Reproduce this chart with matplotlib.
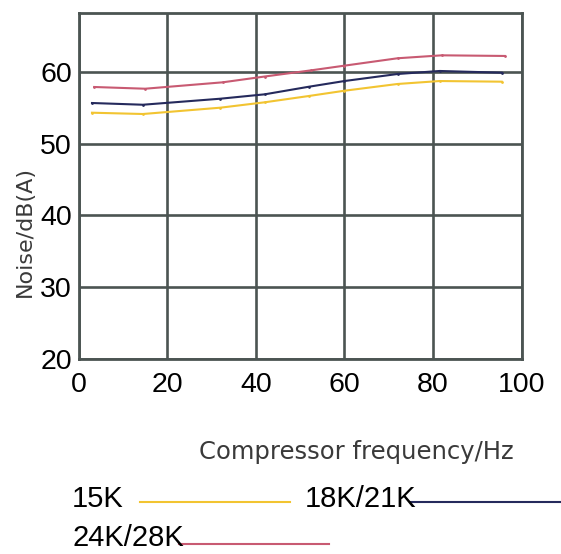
import matplotlib
matplotlib.use("Agg")
import matplotlib.pyplot as plt
from matplotlib.lines import Line2D

# data
freq_15k = [3, 14.5, 32, 42, 52, 60, 72, 81.5, 95.5]
noise_15k = [54.29, 54.11, 54.99, 55.74, 56.62, 57.35, 58.29, 58.70, 58.61]

freq_18k = [3, 14.5, 32, 42, 52, 60, 72, 81.5, 95.5]
noise_18k = [55.64, 55.40, 56.24, 56.85, 57.91, 58.70, 59.68, 60.10, 59.86]

freq_24k = [3.5, 15, 32.5, 42, 52.5, 60, 72, 82, 96.2]
noise_24k = [57.87, 57.63, 58.52, 59.33, 60.19, 60.84, 61.87, 62.28, 62.19]

x_ticks = [0, 20, 40, 60, 80, 100]
y_ticks = [20, 30, 40, 50, 60]
names = ['15K', '18K/21K', '24K/28K']
colors = ['#f2c431', '#252a5c', '#c85a72']

grid_col = '#4b5452'
fig = plt.figure(figsize=(5.61, 5.54), dpi=100)
ax = fig.add_axes([78.7/561, 1-359/554, 442.9/561, 345.7/554])

ax.plot(freq_15k, noise_15k, color=colors[0], lw=1.5, marker='o', ms=1.0)
ax.plot(freq_18k, noise_18k, color=colors[1], lw=1.5, marker='o', ms=1.0)
ax.plot(freq_24k, noise_24k, color=colors[2], lw=1.5, marker='o', ms=1.0)

ax.set_xlim(0, 100)
ax.set_ylim(20, 68.13)
ax.set_xticks(x_ticks)
ax.set_yticks(y_ticks)
ax.grid(True, color=grid_col, lw=1.9)
ax.set_axisbelow(True)
for s in ax.spines.values():
    s.set_color(grid_col)
    s.set_linewidth(2.0)
ax.tick_params(length=0, labelsize=20.5, colors='black')
ax.tick_params(axis='x', pad=9)
ax.tick_params(axis='y', pad=5)
for lab in ax.get_xticklabels() + ax.get_yticklabels():
    lab.set_fontfamily('Liberation Sans')

ax.set_xlabel('Compressor frequency/Hz', fontsize=17.5, color='#3a3a3a',
              fontfamily='DejaVu Sans', va='center')
ax.xaxis.set_label_coords(0.626, -0.269)
ax.set_ylabel('Noise/dB(A)', fontsize=16, color='#3a3a3a',
              fontfamily='DejaVu Sans', va='center')
ax.yaxis.set_label_coords(-0.121, 0.369)

# hand-placed legend like the reference
def fx(px):
    return px/561
def fy(py):
    return 1-py/554

leg = [(72, 499, 139.5, 290, 502),
       (305, 499, 411, 561, 502),
       (72, 538, 179, 329, 544)]
for name, col, (tx, ty, l0, l1, ly) in zip(names, colors, leg):
    fig.add_artist(Line2D([fx(l0), fx(l1)], [fy(ly), fy(ly)], color=col, lw=1.5))
    fig.text(fx(tx), fy(ty), name, fontsize=21, fontfamily='Liberation Sans',
             ha='left', va='center')

fig.savefig('out.png', dpi=100)
